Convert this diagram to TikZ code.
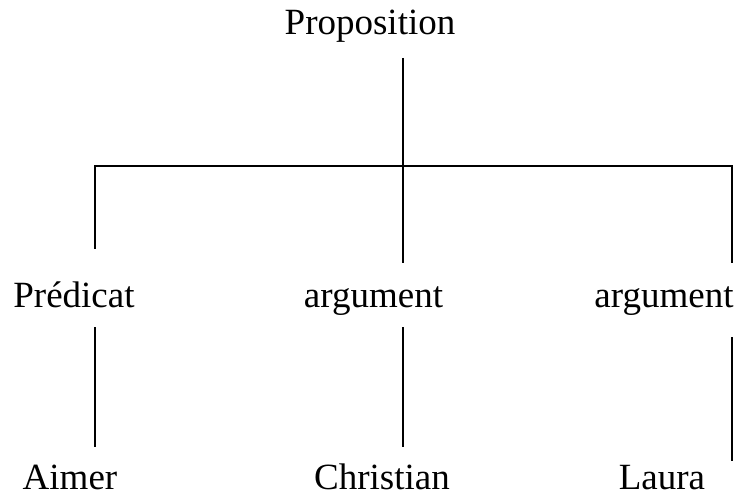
\documentclass[tikz,border=0pt]{standalone}
\usepackage{fontspec}
\setmainfont{Liberation Serif}
\begin{document}
\begin{tikzpicture}[x=1pt,y=-1pt,
  lbl/.style={anchor=base,inner sep=0pt,font=\fontsize{37}{44}\selectfont},
  conn/.style={draw=black,line width=1.6pt}]
\useasboundingbox (0,0) rectangle (736,494);
% labels
\node[lbl] (prop) at (370,35) {Proposition};
\node[lbl] (pred) at (74,307) {Prédicat};
\node[lbl] (arg1) at (373.5,307) {argument};
\node[lbl] (arg2) at (664,307) {argument};
\node[lbl] (aimer) at (70,489) {Aimer};
\node[lbl] (chris) at (382,489) {Christian};
\node[lbl] (laura) at (662,489) {Laura};
% line end points
\coordinate (pTop) at (403,58);
\coordinate (jMid) at (403,166);
\coordinate (jL) at (95,166);
\coordinate (jR) at (732,166);
\coordinate (predTop) at (95,249);
\coordinate (arg1Top) at (403,263);
\coordinate (arg2Top) at (732,263);
\coordinate (predBot) at (95,327);
\coordinate (aimerTop) at (95,447);
\coordinate (arg1Bot) at (403,327);
\coordinate (chrisTop) at (403,447);
\coordinate (arg2Bot) at (732,337);
\coordinate (lauraTop) at (732,461);
% connectors
\draw[conn] (pTop) -- (arg1Top);
\draw[conn] (predTop) -- (jL) -- (jR) -- (arg2Top);
\draw[conn] (predBot) -- (aimerTop);
\draw[conn] (arg1Bot) -- (chrisTop);
\draw[conn] (arg2Bot) -- (lauraTop);
\end{tikzpicture}
\end{document}
